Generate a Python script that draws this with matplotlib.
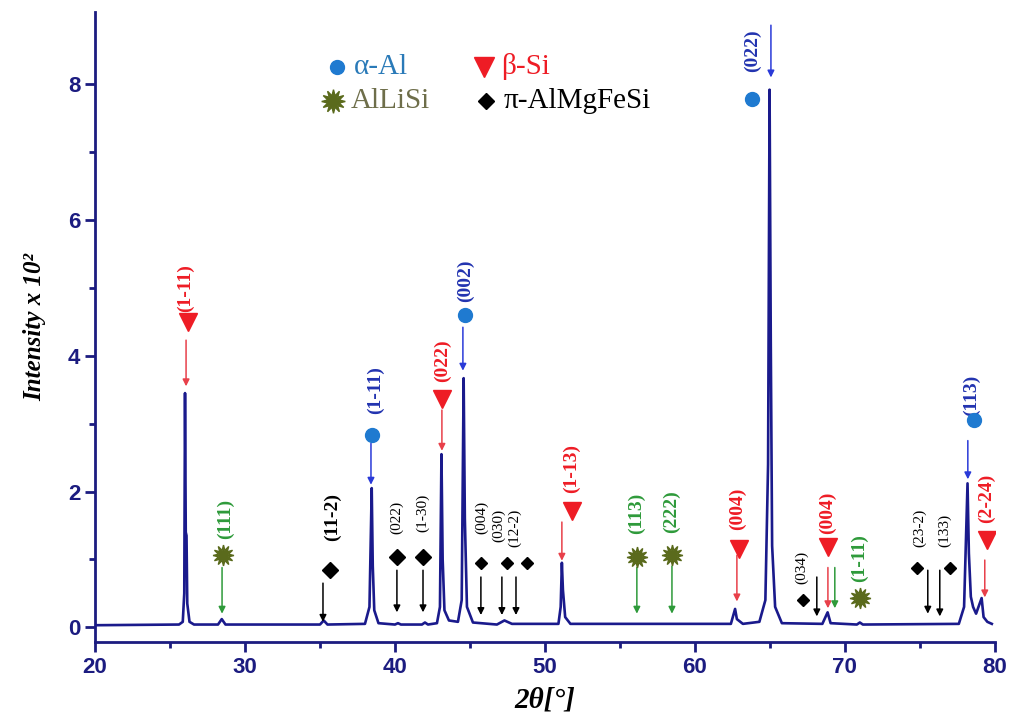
import numpy as np
import matplotlib
matplotlib.use('Agg')
import matplotlib.pyplot as plt

# XRD pattern (2theta in degrees, intensity x 10^2)
two_theta = [20.0, 25.6, 25.85, 25.95, 26.0, 26.05, 26.1, 26.15, 26.3, 26.6,
             28.2, 28.45, 28.7,
             35.0, 35.25, 35.5,
             38.0, 38.3, 38.45, 38.52, 38.62, 38.9,
             40.0, 40.2, 40.4, 41.8, 42.0, 42.2,
             42.8, 43.0, 43.1, 43.18, 43.3, 43.6,
             44.2, 44.45, 44.58, 44.66, 44.8, 45.2,
             46.8, 47.3, 47.8,
             50.9, 51.05, 51.13, 51.2, 51.35, 51.7,
             62.4, 62.68, 62.8, 63.2,
             64.3, 64.7, 64.88, 64.98, 65.06, 65.15, 65.35, 65.8,
             68.5, 68.85, 69.05,
             70.8, 71.0, 71.2,
             77.6, 77.95, 78.18, 78.27, 78.4, 78.55, 78.75, 79.12, 79.25, 79.5, 79.8]
intensity = [0.03, 0.04, 0.08, 0.5, 3.45, 1.4, 1.35, 0.35, 0.08, 0.04,
             0.04, 0.12, 0.04,
             0.04, 0.1, 0.04,
             0.05, 0.3, 2.05, 0.9, 0.25, 0.06,
             0.04, 0.06, 0.04, 0.04, 0.07, 0.04,
             0.06, 0.3, 2.55, 1.0, 0.25, 0.1,
             0.08, 0.4, 3.67, 1.6, 0.3, 0.07,
             0.04, 0.1, 0.05,
             0.05, 0.3, 0.95, 0.55, 0.15, 0.05,
             0.05, 0.27, 0.12, 0.05,
             0.08, 0.4, 2.4, 7.92, 4.2, 1.2, 0.3, 0.06,
             0.05, 0.22, 0.06,
             0.04, 0.07, 0.04,
             0.05, 0.3, 2.12, 1.09, 0.45, 0.3, 0.2, 0.43, 0.15, 0.08, 0.05]

# indexed reflections (a = alpha-Al, b = beta-Si, l = AlLiSi, p = pi-AlMgFeSi)
hkl = ['(1-11)', '(111)', '(11-2)', '(1-11)', '(022)', '(1-30)', '(022)', '(002)',
       '(004)', '(030)', '(12-2)', '(1-13)', '(113)', '(222)', '(004)', '(034)',
       '(004)', '(1-11)', '(23-2)', '(133)', '(113)', '(2-24)', '(022)']
phase = ['b', 'l', 'p', 'a', 'p', 'p', 'b', 'a',
         'p', 'p', 'p', 'b', 'l', 'l', 'b', 'p',
         'b', 'l', 'p', 'p', 'a', 'b', 'a']
peak_pos = [26.07, 28.47, 35.2, 38.4, 40.13, 41.87, 43.13, 44.53,
            45.73, 47.13, 48.07, 51.13, 56.13, 58.47, 62.8, 68.13,
            68.87, 69.33, 75.53, 76.33, 78.2, 79.33, 65.07]

legend_names = ['α-Al', 'β-Si', 'AlLiSi', 'π-AlMgFeSi']

# placement of each annotation: label (x, y), marker (x, y), arrow top/bottom, small text
layout = [
    (26.0, 5.0, 26.2, 4.49, 4.23, 3.55, False),
    (28.67, 1.6, 28.53, 1.06, 0.88, 0.2, False),
    (35.8, 1.62, 35.67, 0.84, 0.65, 0.08, False),
    (38.67, 3.49, 38.47, 2.83, 2.71, 2.1, False),
    (40.13, 1.62, 40.13, 1.03, 0.84, 0.22, True),
    (41.87, 1.68, 41.87, 1.03, 0.84, 0.22, True),
    (43.2, 3.93, 43.13, 3.37, 3.2, 2.6, False),
    (44.73, 5.1, 44.67, 4.6, 4.42, 3.78, False),
    (45.8, 1.62, 45.73, 0.94, 0.74, 0.18, True),
    (46.9, 1.5, 47.47, 0.94, 0.74, 0.18, True),
    (47.95, 1.47, 48.8, 0.94, 0.74, 0.18, True),
    (51.8, 2.34, 51.8, 1.72, 1.55, 0.98, False),
    (56.13, 1.68, 56.13, 1.03, 0.88, 0.2, False),
    (58.47, 1.71, 58.47, 1.06, 0.9, 0.2, False),
    (62.87, 1.75, 62.93, 1.16, 1.06, 0.38, False),
    (67.13, 0.88, 67.2, 0.4, 0.74, 0.16, True),
    (68.87, 1.69, 68.87, 1.18, 0.88, 0.28, False),
    (71.0, 1.02, 71.0, 0.43, 0.88, 0.28, False),
    (75.0, 1.46, 74.8, 0.88, 0.84, 0.2, True),
    (76.67, 1.43, 77.0, 0.88, 0.84, 0.16, True),
    (78.47, 3.42, 78.6, 3.05, 2.75, 2.18, False),
    (79.47, 1.9, 79.47, 1.28, 0.99, 0.44, False),
    (63.87, 8.5, 63.8, 7.79, 8.87, 8.1, False),
]

star = (12, 1, 0)
styles = {
    'a': dict(marker='o', mc='#1f7ad0', tc='#2233b0', ac='#2a3ad8', ms=10),
    'b': dict(marker='v', mc='#ee1c25', tc='#ee1c25', ac='#e8404a', ms=13),
    'l': dict(marker=star, mc='#5a6a1c', tc='#2e9a3a', ac='#2e9a3a', ms=15),
    'p': dict(marker='D', mc='black', tc='black', ac='black', ms=8.5),
}
legend_text_colors = ['#2a7ab8', '#ee1c25', '#6e6e4a', 'black']

navy = '#1c1c80'
serif = 'Liberation Serif'

fig = plt.figure(figsize=(10.11, 7.24), dpi=100)
ax = fig.add_axes([0.094, 0.113, 0.890, 0.870])
ax.plot(two_theta, intensity, color='#1a1a8c', lw=1.9, zorder=3)

for lab, ph, pk, lay in zip(hkl, phase, peak_pos, layout):
    lx, ly, mx, my, a0, a1, small = lay
    st = styles[ph]
    ax.text(lx, ly, lab, rotation=90, ha='center', va='center', color=st['tc'],
            fontsize=11 if small else 14, fontweight='normal' if small else 'bold',
            family=serif)
    ms = st['ms']
    if ph == 'p' and lab not in ('(11-2)', '(022)', '(1-30)'):
        ms = 6
    ax.plot(mx, my, marker=st['marker'], color=st['mc'], ms=ms, ls='none', zorder=4)
    ax.annotate('', xy=(pk, a1), xytext=(pk, a0),
                arrowprops=dict(arrowstyle='-|>', color=st['ac'], lw=1.1,
                                mutation_scale=10, shrinkA=0, shrinkB=0))

# legend drawn in the plot area
leg_x = [36.13, 45.93, 35.87, 46.07]
leg_y = [8.26, 8.26, 7.75, 7.75]
for name, ph, lx, ly, tc in zip(legend_names, ['a', 'b', 'l', 'p'], leg_x, leg_y, legend_text_colors):
    st = styles[ph]
    ms = {'a': 10, 'b': 15, 'l': 17, 'p': 8}[ph]
    ax.plot(lx, ly, marker=st['marker'], color=st['mc'], ms=ms, ls='none')
    ax.text(lx + 1.15, ly, name, ha='left', va='center', color=tc, fontsize=21,
            family=serif)

ax.set_xlim(20, 80)
ax.set_ylim(-0.22, 9.06)
ax.set_xticks(np.arange(20, 81, 10))
ax.set_xticks(np.arange(25, 80, 10), minor=True)
ax.set_yticks(np.arange(0, 9, 2))
ax.set_yticks(np.arange(1, 9, 2), minor=True)
for s in ['top', 'right']:
    ax.spines[s].set_visible(False)
for s in ['left', 'bottom']:
    ax.spines[s].set_color(navy)
    ax.spines[s].set_linewidth(2)
ax.tick_params(which='major', direction='out', length=7, width=2, color=navy,
               labelcolor=navy, labelsize=16)
ax.tick_params(which='minor', direction='out', length=4, width=2, color=navy)
for t in ax.get_xticklabels() + ax.get_yticklabels():
    t.set_fontweight('bold')
    t.set_family('Liberation Sans')

ax.set_xlabel('2θ[°]', fontsize=21, fontweight='bold', style='italic', family=serif,
              color='black', labelpad=6)
ax.set_ylabel('Intensity x 10²', fontsize=18, fontweight='bold', style='italic',
              family=serif, color='black', labelpad=16)

fig.savefig('out.png', dpi=100)
